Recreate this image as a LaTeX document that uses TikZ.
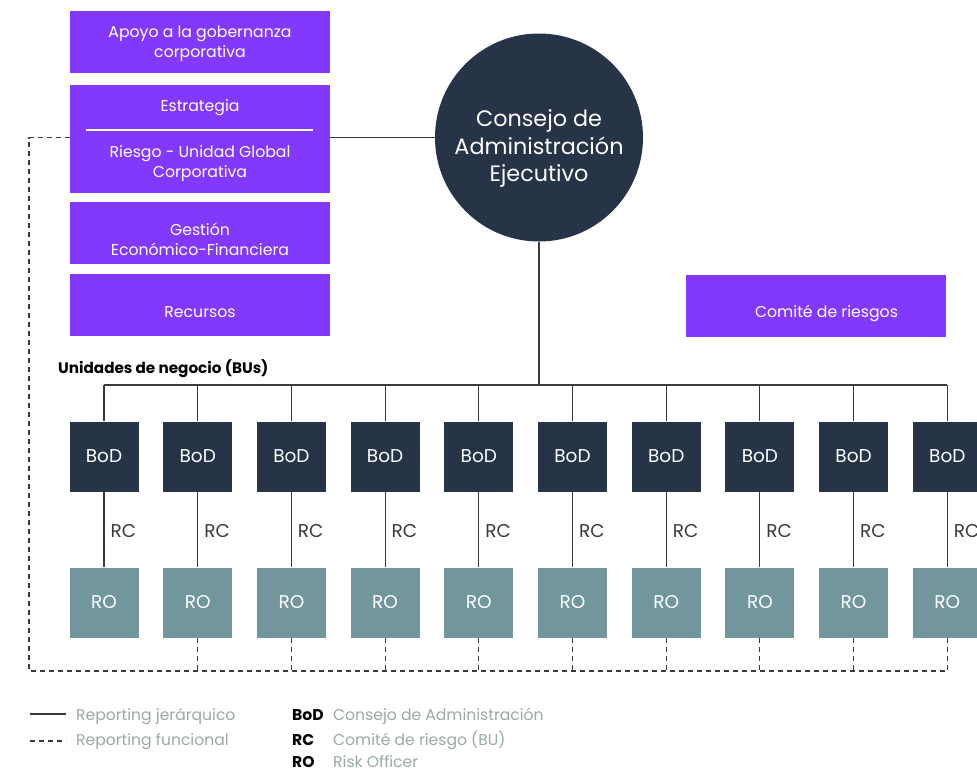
\documentclass[tikz,border=0pt]{standalone}
\usepackage{fontspec}
\setmainfont{Poppins}
\definecolor{purp}{HTML}{8338FE}
\definecolor{navy}{HTML}{273346}
\definecolor{rocol}{HTML}{71969C}
\definecolor{lgray}{HTML}{9AA8A8}
\definecolor{lnc}{HTML}{3A3A3A}
\tikzset{
  pbox/.style={fill=purp, minimum width=260pt, inner sep=0pt},
  ptxt/.style={text=white, align=center, inner sep=0pt, font=\fontsize{15.7}{20}\selectfont},
  bodbox/.style={fill=navy, text=white, minimum width=69pt, minimum height=70pt, inner sep=0pt, font=\fontsize{18.5}{20}\selectfont},
  robox/.style={fill=rocol, text=white, minimum width=69pt, minimum height=70pt, inner sep=0pt, font=\fontsize{18.5}{20}\selectfont},
  hline/.style={draw=lnc, line width=1.1pt},
  dline/.style={draw=lnc, line width=1.1pt, dash pattern=on 5pt off 4pt},
  rclabel/.style={anchor=west, inner sep=0pt, xshift=6pt, yshift=-2pt, text=lnc, font=\fontsize{18.5}{20}\selectfont},
  legtxt/.style={anchor=base west, inner sep=0pt, text=lgray, font=\fontsize{15.6}{18}\selectfont},
  legkey/.style={anchor=base west, inner sep=0pt, text=black, font=\fontsize{15.6}{18}\selectfont\bfseries}
}
\begin{document}
\begin{tikzpicture}[x=1pt,y=-1pt]
\useasboundingbox (0,0) rectangle (977,771);
\clip (0,0) rectangle (977,771);
% left purple boxes
\node[pbox, minimum height=62pt, label={[ptxt, yshift=-2pt]center:{Apoyo a la gobernanza\\corporativa}}] (apoyo) at (200,42) {};
\node[pbox, minimum height=108pt, label={[ptxt, yshift=-2pt]center:{Estrategia\\[26pt]Riesgo - Unidad Global\\Corporativa}}] (estr) at (200,139) {};
\draw[white, line width=1.5pt] (86,130) -- (313,130);
\node[pbox, minimum height=62pt, label={[ptxt, yshift=-6.5pt]center:{Gestión\\Económico-Financiera}}] (gest) at (200,233) {};
\node[pbox, minimum height=62pt, label={[ptxt, yshift=-7pt]center:{Recursos}}] (recu) at (200,305) {};
\node[pbox, minimum height=62pt, label={[ptxt, yshift=-7pt, xshift=11pt]center:{Comité de riesgos}}] (comite) at (815.5,306) {};
% central circle
\node[circle, fill=navy, minimum size=208pt, inner sep=0pt, label={[text=white, align=center, inner sep=0pt, yshift=-11pt, font=\fontsize{22.3}{27.5}\selectfont]center:{Consejo de\\Administración\\Ejecutivo}}] (ceo) at (539,137.5) {};
\draw[hline] (ceo.west) -- (ceo.west -| estr.east);
% business units
\node[anchor=west, inner sep=0pt, font=\fontsize{15.2}{16}\selectfont\bfseries] (bus label) at (58,369) {Unidades de negocio (BUs)};
\coordinate (bus) at (539,385);
\coordinate (dbot) at (29,671);
\foreach \i in {0,...,9} {
  \pgfmathsetmacro\xx{104+93.7*\i}
  \node[bodbox] (bod\i) at (\xx,456.5) {BoD};
  \node[robox] (ro\i) at (\xx,602.5) {RO};
  \draw[hline] (bod\i.south) -- node[rclabel] {RC} (ro\i.north);
  \draw[hline] (bod\i.north) -- (bod\i.north |- bus);
}
\draw[hline] (ceo.south) -- (bus);
\draw[hline] (bod0.north |- bus) -- (bod9.north |- bus);
% functional reporting
\draw[dline] (estr.west |- ceo.west) -| (dbot) -- (dbot -| ro9.south);
\foreach \i in {1,...,9} {
  \draw[dline] (ro\i.south) -- (ro\i.south |- dbot);
}
% legend
\coordinate (lA1) at (30,714); \coordinate (lA2) at (66,714);
\coordinate (lB1) at (30,741); \coordinate (lB2) at (66,741);
\draw[hline] (lA1) -- (lA2);
\draw[dline] (lB1) -- (lB2);
\node[legtxt] (lgA) at (76,720.5) {Reporting jerárquico};
\node[legtxt] (lgB) at (76,745) {Reporting funcional};
\node[legkey] (kBoD) at (292,720.5) {BoD};
\node[legtxt] (tBoD) at (333,720.5) {Consejo de Administración};
\node[legkey] (kRC) at (292,745) {RC};
\node[legtxt] (tRC) at (333,745) {Comité de riesgo (BU)};
\node[legkey] (kRO) at (292,767) {RO};
\node[legtxt] (tRO) at (333,767) {Risk Officer};
\end{tikzpicture}
\end{document}
